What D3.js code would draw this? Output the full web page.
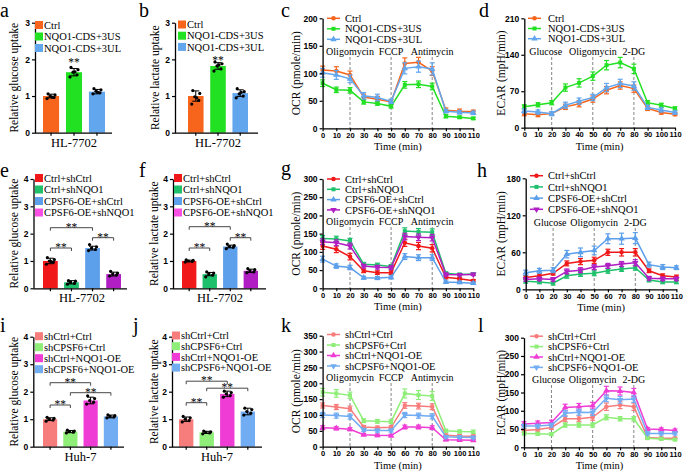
<!DOCTYPE html>
<html><head><meta charset="utf-8">
<script src="https://cdn.jsdelivr.net/npm/d3@7"></script>
<style>body{margin:0;background:#fff}svg{display:block}</style>
</head><body>
<svg id="fig" width="685" height="472"></svg>
<script>
// ================= DATA =================
const times = [0,10,20,30,40,50,60,70,80,90,100,110];

// ---- a / b (HL-7702) ----
const abGroups = ["Ctrl","NQO1-CDS+3US","NQO1-CDS+3UL"];
const aMeans = [1.00,1.65,1.12];
const aErr   = [0.05,0.10,0.06];
const aDots  = [[0.93,0.96,1.00,1.03,1.06,0.97],[1.52,1.58,1.65,1.72,1.78,1.66],[1.06,1.09,1.13,1.17,1.20,1.10]];
const bMeans = [1.00,1.82,1.08];
const bErr   = [0.14,0.09,0.09];
const bDots  = [[0.78,0.88,0.98,1.07,1.15,0.95],[1.68,1.74,1.82,1.88,1.93,1.85],[0.95,1.00,1.06,1.12,1.20,1.10]];

// ---- c OCR ----
const cCtrl = [106,104,97,57,53,48,118,120,104,33,31,30];
const c3US  = [82,70,69,48,45,40,79,80,76,22,20,18];
const c3UL  = [101,97,90,59,56,49,109,112,108,31,29,28];
const cCtrlErr = [7,8,7,5,5,4,10,9,8,4,4,3];
const c3USErr  = [6,5,5,4,3,3,6,6,6,3,2,2];
const c3ULErr  = [8,8,7,6,6,4,10,10,11,3,3,3];

// ---- d ECAR ----
const dCtrl = [27,25,27,40,46,55,72,81,75,37,29,26];
const d3US  = [40,44,48,77,86,99,120,125,113,48,43,37];
const d3UL  = [32,30,27,43,51,58,77,85,80,39,34,29];
const dCtrlErr = [4,4,3,5,6,6,7,7,7,4,3,3];
const d3USErr  = [4,4,4,7,8,8,9,10,9,4,4,3];
const d3ULErr  = [4,4,4,6,6,6,8,8,8,4,4,3];

// ---- e / f (HL-7702) ----
const efGroups = ["Ctrl+shCtrl","Ctrl+shNQO1","CPSF6-OE+shCtrl","CPSF6-OE+shNQO1"];
const eMeans = [1.00,0.22,1.47,0.52];
const eErr   = [0.10,0.06,0.07,0.07];
const eDots  = [[0.88,0.95,1.00,1.05,1.12,0.98],[0.15,0.18,0.22,0.26,0.28],[1.38,1.42,1.47,1.52,1.60],[0.45,0.49,0.52,0.56,0.62]];
const fMeans = [1.00,0.52,1.53,0.64];
const fErr   = [0.03,0.06,0.05,0.06];
const fDots  = [[0.96,0.98,1.00,1.02,1.04],[0.42,0.48,0.52,0.56,0.60],[1.45,1.50,1.53,1.56,1.62],[0.57,0.60,0.64,0.68,0.72]];

// ---- g OCR ----
const gA = [116,107,87,48,43,43,125,116,110,30,26,21];   // Ctrl+shCtrl
const gB = [137,135,130,66,64,60,157,155,154,41,38,39];  // Ctrl+shNQO1
const gC = [80,61,57,29,28,30,87,84,84,17,16,14];        // CPSF6-OE+shCtrl
const gD = [128,125,116,61,58,57,142,140,139,38,37,38];  // CPSF6-OE+shNQO1
const gAErr = [9,9,9,5,5,5,10,10,10,4,3,3];
const gBErr = [8,8,7,5,5,5,9,9,9,4,3,3];
const gCErr = [8,6,6,4,4,4,8,8,8,3,3,3];
const gDErr = [8,8,8,5,5,5,9,9,9,4,3,3];

// ---- h ECAR ----
const hA = [19,22,26,42,45,47,60,60,60,30,22,20];
const hB = [13,12,10,22,25,26,30,33,35,15,12,12];
const hC = [27,30,31,57,60,63,82,82,83,40,36,35];
const hD = [16,17,16,29,31,36,38,41,43,18,17,17];
const hAErr = [3,3,3,4,5,5,5,6,6,3,3,3];
const hBErr = [3,3,3,4,4,4,4,4,4,3,3,3];
const hCErr = [4,4,4,6,7,7,8,9,9,4,4,3];
const hDErr = [3,3,3,4,4,4,4,4,5,3,3,3];

// ---- i / j (Huh-7) ----
const ijGroups = ["shCtrl+Ctrl","shCPSF6+Ctrl","shCtrl+NQO1-OE","shCPSF6+NQO1-OE"];
const iMeans = [1.00,0.55,1.68,1.10];
const iErr   = [0.05,0.04,0.12,0.05];
const iDots  = [[0.93,0.97,1.00,1.03,1.07],[0.50,0.53,0.55,0.57,0.60],[1.55,1.62,1.68,1.75,1.85],[1.05,1.08,1.10,1.13,1.16]];
const jMeans = [1.00,0.52,1.92,1.28];
const jErr   = [0.08,0.04,0.10,0.12];
const jDots  = [[0.90,0.95,1.00,1.05,1.10],[0.47,0.50,0.52,0.54,0.57],[1.80,1.86,1.92,1.97,2.02],[1.15,1.22,1.28,1.35,1.40]];

// ---- k OCR ----
const kA = [130,125,120,62,60,61,130,128,126,36,34,33];   // shCtrl+Ctrl
const kB = [172,168,162,82,80,79,168,163,160,50,48,47];   // shCPSF6+Ctrl
const kC = [60,58,55,38,36,35,62,62,60,22,21,20];         // shCtrl+NQO1-OE
const kD = [100,98,95,53,51,51,100,98,96,31,30,29];       // shCPSF6+NQO1-OE
const kAErr = [8,8,8,5,5,5,9,9,9,4,4,4];
const kBErr = [12,12,10,6,6,6,14,14,14,5,5,5];
const kCErr = [6,5,5,4,4,4,6,6,6,3,3,3];
const kDErr = [8,8,8,5,5,5,8,8,8,4,4,4];

// ---- l ECAR ----
const lA = [46,49,54,78,78,82,111,116,111,27,25,25];
const lB = [38,37,36,61,61,61,82,78,78,25,23,21];
const lC = [64,66,68,109,111,114,155,154,150,50,49,46];
const lD = [58,58,61,93,96,95,134,130,132,38,38,38];
const lAErr = [5,5,5,8,8,8,10,10,10,3,3,3];
const lBErr = [4,4,4,6,6,6,7,6,6,3,3,3];
const lCErr = [6,6,6,9,9,9,12,11,11,4,4,4];
const lDErr = [5,5,5,8,8,8,9,9,9,4,4,4];

const ocrMarks  = ["Oligomycin","FCCP","Antimycin"];
const ecarMarks = ["Glucose","Oligomycin","2-DG"];
const markTimes = [20,50,80];

// ================= DRAW =================
const svg = d3.select("#fig");
const SERIF = "'Liberation Serif','Times New Roman',serif";
const SANS  = "'Liberation Sans',Arial,sans-serif";

function styleAxis(g, fs){
  g.selectAll("path.domain").attr("stroke","#000").attr("stroke-width",1.3);
  g.selectAll(".tick line").attr("stroke","#000").attr("stroke-width",1.2);
  g.selectAll(".tick text").attr("font-family",SANS).attr("font-weight","bold")
    .attr("font-size",fs).attr("fill","#000");
}
function panelLetter(t,x,y){
  svg.append("text").attr("x",x).attr("y",y).attr("font-family",SERIF)
    .attr("font-size",20).text(t);
}
function yTitle(t,x,yc){
  svg.append("text").attr("transform",`translate(${x},${yc}) rotate(-90)`)
    .attr("text-anchor","middle").attr("font-family",SERIF).attr("font-size",11.5)
    .attr("dominant-baseline","middle").text(t);
}

const jit = [-4,3,-1,4,-3,1];

function barPanel(p){
  const g = svg.append("g");
  const y = d3.scaleLinear().domain([0,p.ymax]).range([p.yBot,p.yTop]);
  const x = d3.scaleBand().domain(p.groups).range([p.barL,p.barR]).paddingInner(0.3).paddingOuter(0);
  const bw = x.bandwidth();
  g.selectAll("rect.bar").data(p.groups).join("rect")
    .attr("x",d=>x(d)).attr("width",bw)
    .attr("y",(d,i)=>y(p.means[i])).attr("height",(d,i)=>p.yBot-y(p.means[i]))
    .attr("fill",(d,i)=>p.colors[i]);
  p.groups.forEach((d,i)=>{
    const cx = x(d)+bw/2;
    const top = y(p.means[i]+p.err[i]), bot = y(p.means[i]-p.err[i]);
    g.append("line").attr("x1",cx).attr("x2",cx).attr("y1",top).attr("y2",bot).attr("stroke","#000").attr("stroke-width",1);
    [top,bot].forEach(v=>g.append("line").attr("x1",cx-3.5).attr("x2",cx+3.5).attr("y1",v).attr("y2",v).attr("stroke","#000").attr("stroke-width",1));
    p.dots[i].forEach((v,k)=>{
      g.append("circle").attr("cx",cx+jit[k%jit.length]).attr("cy",y(v)).attr("r",1.6).attr("fill","#000");
    });
  });
  const ya = g.append("g").attr("transform",`translate(${p.axisX},0)`)
    .call(d3.axisLeft(y).ticks(p.ymax).tickFormat(d3.format("d")).tickSize(3).tickSizeOuter(0).tickPadding(2));
  styleAxis(ya,8.5);
  const xa = g.append("g").attr("transform",`translate(0,${p.yBot})`)
    .call(d3.axisBottom(x).tickFormat("").tickSize(3).tickSizeOuter(0));
  xa.select("path.domain").attr("d",`M${p.axisX},0.5H${p.axisEnd}`);
  styleAxis(xa,8.5);
  g.append("text").attr("x",(p.barL+p.barR)/2).attr("y",p.yBot+14)
    .attr("text-anchor","middle").attr("font-family",SERIF).attr("font-size",12.5).text(p.xlabel);
  p.groups.forEach((d,i)=>{
    const yy = p.legY + i*p.legDy;
    g.append("rect").attr("x",p.legX).attr("y",yy-4).attr("width",8).attr("height",8).attr("fill",(p.legColors||p.colors)[i]);
    g.append("text").attr("x",p.legX+9).attr("y",yy+3.6).attr("font-family",SERIF).attr("font-size",10.5).text(d);
  });
  (p.sig||[]).forEach(s=>{
    if(s.single!==undefined){
      const cx = x(p.groups[s.single])+bw/2;
      g.append("text").attr("x",cx).attr("y",s.y).attr("text-anchor","middle").attr("font-family",SERIF).attr("font-size",11.5).text("**");
    } else {
      const x1 = x(p.groups[s.a])+bw/2, x2 = x(p.groups[s.b])+bw/2;
      g.append("path").attr("d",`M${x1},${s.y+3}V${s.y}H${x2}V${s.y+3}`).attr("fill","none").attr("stroke","#333").attr("stroke-width",0.9);
      g.append("text").attr("x",(x1+x2)/2).attr("y",s.y+2.8).attr("text-anchor","middle").attr("font-family",SERIF).attr("font-size",11.5).text("**");
    }
  });
  yTitle(p.ytitle,p.ytX,(p.yTop+p.yBot)/2);
}

function marker(g,shape,cx,cy,color){
  const sym = {circle:d3.symbolCircle,square:d3.symbolSquare,tri:d3.symbolTriangle,tridown:d3.symbolTriangle}[shape];
  const size = shape==="circle"?16:(shape==="square"?16:18);
  g.append("path").attr("d",d3.symbol(sym,size)())
    .attr("transform",`translate(${cx},${cy})${shape==="tridown"?" rotate(180)":""}`)
    .attr("fill",color);
}

function linePanel(p){
  const g = svg.append("g");
  const x = d3.scaleLinear().domain([0,110]).range([p.x0,p.x1]);
  const y = d3.scaleLinear().domain([0,p.ymax]).range([p.yBot,p.yTop]);
  markTimes.forEach((t,i)=>{
    g.append("line").attr("x1",x(t)).attr("x2",x(t)).attr("y1",p.dashTop).attr("y2",p.yBot)
      .attr("stroke","#777").attr("stroke-width",0.9).attr("stroke-dasharray","3,2");
    g.append("text").attr("x",x(t)+(p.annShift?p.annShift[i]:0)).attr("y",p.annY).attr("text-anchor","middle")
      .attr("font-family",SERIF).attr("font-size",10).text(p.marks[i]);
  });
  const line = d3.line().x((d,i)=>x(times[i])).y(d=>y(d));
  p.series.forEach((s,si)=>{
    g.append("path").datum(s.v).attr("d",line).attr("fill","none").attr("stroke",s.color).attr("stroke-width",1.5);
    s.v.forEach((v,i)=>{
      const cx=x(times[i]), t=y(v+s.e[i]), b=y(v-s.e[i]);
      g.append("line").attr("x1",cx).attr("x2",cx).attr("y1",t).attr("y2",b).attr("stroke",s.color).attr("stroke-width",1.2);
      [t,b].forEach(vv=>g.append("line").attr("x1",cx-2.5).attr("x2",cx+2.5).attr("y1",vv).attr("y2",vv).attr("stroke",s.color).attr("stroke-width",1.2));
      marker(g,s.shape,cx,y(v),s.color);
    });
    const ly = p.legY + si*p.legDy;
    g.append("line").attr("x1",p.legX).attr("x2",p.legX+13).attr("y1",ly).attr("y2",ly).attr("stroke",s.color).attr("stroke-width",1.5);
    marker(g,s.shape,p.legX+6.5,ly,s.color);
    g.append("text").attr("x",p.legTX).attr("y",ly+3.6).attr("font-family",SERIF).attr("font-size",10.5).text(s.name);
  });
  const ya = g.append("g").attr("transform",`translate(${p.x0},0)`)
    .call(d3.axisLeft(y).tickValues(d3.range(0,p.ymax+0.1,p.step)).tickSize(3).tickSizeOuter(0).tickPadding(2));
  styleAxis(ya,8.5);
  const xa = g.append("g").attr("transform",`translate(0,${p.yBot})`)
    .call(d3.axisBottom(x).tickValues(times).tickSize(3).tickSizeOuter(0).tickPadding(1));
  styleAxis(xa,7.5);
  g.append("text").attr("x",(p.x0+p.x1)/2).attr("y",p.yBot+22).attr("text-anchor","middle")
    .attr("font-family",SERIF).attr("font-size",10.5).text("Time (min)");
  yTitle(p.ytitle,p.ytX,(p.yTop+p.yBot)/2);
}

const OR="#F7651C", GR="#22E022", BL="#62A6EE";
const R2="#F01818", G2="#1EC06C", B2="#5C9FEA", P2="#B01EC4", PK="#F84FE4";
const R3="#F77C7C", G3="#8EEE78", M3="#EE3CD4", B3="#72ACF2";

// ---------- row 1 ----------
panelLetter("a",0,17); panelLetter("b",139,17); panelLetter("c",281,17); panelLetter("d",479,17);
barPanel({groups:abGroups,means:aMeans,err:aErr,dots:aDots,colors:[OR,GR,BL],ymax:3,yTop:22.7,yBot:132.7,
  axisX:35,axisEnd:112,barL:43,barR:105,xlabel:"HL-7702",legX:35,legY:25,legDy:11.5,
  sig:[{single:1,y:66}],ytitle:"Relative glucose uptake",ytX:15});
barPanel({groups:abGroups,means:bMeans,err:bErr,dots:bDots,colors:[OR,GR,BL],ymax:3,yTop:22.7,yBot:132.7,
  axisX:175,axisEnd:258,barL:188,barR:248,xlabel:"HL-7702",legX:178,legY:24.5,legDy:11.2,
  sig:[{single:1,y:64}],ytitle:"Relative lactate uptake",ytX:156});
linePanel({x0:322.6,x1:473.3,ymax:200,step:50,yTop:18.3,yBot:128.3,dashTop:57,annY:55,marks:ocrMarks,
  legX:327,legTX:345,legY:18.3,legDy:10.5,ytitle:"OCR (pmole/min)",ytX:297,
  series:[{name:"Ctrl",v:cCtrl,e:cCtrlErr,color:OR,shape:"circle"},
          {name:"NQO1-CDS+3US",v:c3US,e:c3USErr,color:GR,shape:"square"},
          {name:"NQO1-CDS+3UL",v:c3UL,e:c3ULErr,color:BL,shape:"tri"}]});
linePanel({x0:524.3,x1:675,ymax:210,step:70,yTop:18.3,yBot:127.7,dashTop:57,annY:55,marks:ecarMarks,annShift:[-6,0,0],
  legX:528,legTX:548,legY:18.3,legDy:10.2,ytitle:"ECAR (mpH/min)",ytX:502,
  series:[{name:"Ctrl",v:dCtrl,e:dCtrlErr,color:OR,shape:"circle"},
          {name:"NQO1-CDS+3US",v:d3US,e:d3USErr,color:GR,shape:"square"},
          {name:"NQO1-CDS+3UL",v:d3UL,e:d3ULErr,color:BL,shape:"tri"}]});

// ---------- row 2 ----------
panelLetter("e",0,177); panelLetter("f",139,177); panelLetter("g",281,175); panelLetter("h",477,177);
barPanel({groups:efGroups,means:eMeans,err:eErr,dots:eDots,colors:[R2,G2,B2,P2],legColors:[R2,G2,B2,PK],ymax:4,yTop:179,yBot:288.3,
  axisX:33.5,axisEnd:127,barL:43,barR:121,xlabel:"HL-7702",legX:35,legY:178,legDy:11.5,
  sig:[{a:0,b:1,y:248},{a:0,b:2,y:227.7},{a:2,b:3,y:237.7}],ytitle:"Relative glucose uptake",ytX:15});
barPanel({groups:efGroups,means:fMeans,err:fErr,dots:fDots,colors:[R2,G2,B2,P2],legColors:[R2,G2,B2,PK],ymax:4,yTop:179,yBot:288.3,
  axisX:173,axisEnd:266,barL:182,barR:258,xlabel:"HL-7702",legX:174,legY:178,legDy:11.5,
  sig:[{a:0,b:1,y:248},{a:0,b:2,y:226.7},{a:2,b:3,y:237.7}],ytitle:"Relative lactate uptake",ytX:155});
linePanel({x0:322.6,x1:473.3,ymax:300,step:50,yTop:179,yBot:288.3,dashTop:227,annY:225,marks:ocrMarks,
  legX:327,legTX:345,legY:179,legDy:10.3,ytitle:"OCR (pmole/min)",ytX:297,
  series:[{name:"Ctrl+shCtrl",v:gA,e:gAErr,color:R2,shape:"circle"},
          {name:"Ctrl+shNQO1",v:gB,e:gBErr,color:G2,shape:"square"},
          {name:"CPSF6-OE+shCtrl",v:gC,e:gCErr,color:B2,shape:"tri"},
          {name:"CPSF6-OE+shNQO1",v:gD,e:gDErr,color:P2,shape:"tridown"}]});
linePanel({x0:525.7,x1:676.4,ymax:180,step:60,yTop:178.3,yBot:289.3,dashTop:228,annY:225.5,marks:ecarMarks,annShift:[-3,0,0],
  legX:530,legTX:548,legY:175.7,legDy:11.2,ytitle:"ECAR (mpH/min)",ytX:502,
  series:[{name:"Ctrl+shCtrl",v:hA,e:hAErr,color:R2,shape:"circle"},
          {name:"Ctrl+shNQO1",v:hB,e:hBErr,color:G2,shape:"square"},
          {name:"CPSF6-OE+shCtrl",v:hC,e:hCErr,color:B2,shape:"tri"},
          {name:"CPSF6-OE+shNQO1",v:hD,e:hDErr,color:P2,shape:"tridown"}]});

// ---------- row 3 ----------
panelLetter("i",0,332); panelLetter("j",133,332); panelLetter("k",281,332); panelLetter("l",478,332);
barPanel({groups:ijGroups,means:iMeans,err:iErr,dots:iDots,colors:[R3,G3,M3,B3],ymax:4,yTop:336.7,yBot:446.7,
  axisX:33.3,axisEnd:124,barL:43,barR:118,xlabel:"Huh-7",legX:35,legY:336.2,legDy:11,
  sig:[{a:0,b:1,y:405},{a:0,b:2,y:382.7},{a:1,b:3,y:392.7}],ytitle:"Relative glucose uptake",ytX:15});
barPanel({groups:ijGroups,means:jMeans,err:jErr,dots:jDots,colors:[R3,G3,M3,B3],ymax:4,yTop:336.7,yBot:446.7,
  axisX:172,axisEnd:262,barL:179,barR:255,xlabel:"Huh-7",legX:172,legY:335.5,legDy:10.7,
  sig:[{a:0,b:1,y:402.7},{a:0,b:2,y:381.2},{a:1,b:3,y:388.2}],ytitle:"Relative lactate uptake",ytX:155});
linePanel({x0:322.6,x1:473.3,ymax:350,step:50,yTop:335.7,yBot:446.7,dashTop:383,annY:381,marks:ocrMarks,
  legX:327,legTX:345,legY:334.5,legDy:10.5,ytitle:"OCR (pmole/min)",ytX:297,
  series:[{name:"shCtrl+Ctrl",v:kA,e:kAErr,color:R3,shape:"circle"},
          {name:"shCPSF6+Ctrl",v:kB,e:kBErr,color:G3,shape:"square"},
          {name:"shCtrl+NQO1-OE",v:kC,e:kCErr,color:M3,shape:"tri"},
          {name:"shCPSF6+NQO1-OE",v:kD,e:kDErr,color:B3,shape:"tridown"}]});
linePanel({x0:524,x1:675,ymax:300,step:50,yTop:337.7,yBot:447.3,dashTop:385,annY:382.5,marks:ecarMarks,annShift:[-3,0,0],
  legX:530,legTX:548,legY:336.2,legDy:10.4,ytitle:"ECAR (mpH/min)",ytX:502,
  series:[{name:"shCtrl+Ctrl",v:lA,e:lAErr,color:R3,shape:"circle"},
          {name:"shCPSF6+Ctrl",v:lB,e:lBErr,color:G3,shape:"square"},
          {name:"shCtrl+NQO1-OE",v:lC,e:lCErr,color:M3,shape:"tri"},
          {name:"shCPSF6+NQO1-OE",v:lD,e:lDErr,color:B3,shape:"tridown"}]});
</script>
</body></html>
